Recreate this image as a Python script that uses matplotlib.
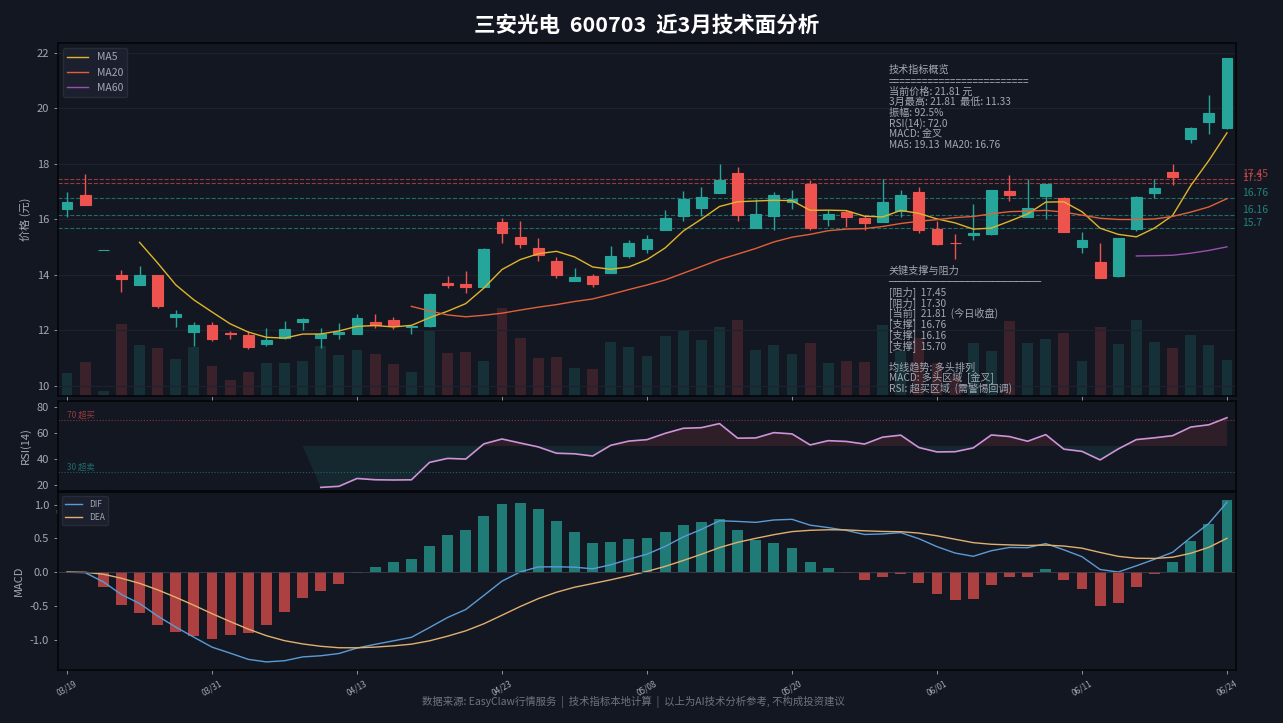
import numpy as np
import pandas as pd
import matplotlib
matplotlib.use("Agg")
import matplotlib.pyplot as plt
import matplotlib.transforms as mtransforms

plt.rcParams['font.family'] = ['Noto Sans CJK SC', 'DejaVu Sans']
plt.rcParams['axes.unicode_minus'] = False

# ---- data (65 trading days) ----
opens = [16.38, 16.86, 14.89, 14.00, 13.64, 13.98, 12.49, 11.92, 12.18, 11.90,
         11.82, 11.49, 11.71, 12.29, 11.71, 11.86, 11.88, 12.29, 12.36, 12.10,
         12.14, 13.71, 13.65, 13.56, 15.89, 15.36, 14.96, 14.50, 13.79, 13.96,
         14.08, 14.68, 14.93, 15.61, 16.11, 16.39, 16.96, 17.68, 15.68, 16.11,
         16.61, 17.29, 16.00, 16.25, 16.04, 15.92, 16.31, 17.00, 15.65, 15.16,
         15.43, 15.46, 17.03, 16.10, 16.85, 16.78, 14.99, 14.45, 13.94, 15.66,
         16.96, 17.71, 18.90, 19.50, 19.28]
highs = [16.99, 17.65, 14.89, 14.19, 14.30, 14.00, 12.74, 12.30, 12.30, 11.99,
         11.96, 12.09, 12.33, 12.46, 12.07, 12.26, 12.58, 12.58, 12.48, 12.17,
         13.34, 13.94, 14.12, 14.96, 16.05, 15.94, 15.33, 14.65, 14.26, 14.04,
         15.05, 15.26, 15.44, 16.33, 17.01, 17.15, 18.01, 17.88, 16.75, 16.98,
         17.04, 17.42, 16.35, 16.33, 16.14, 17.44, 17.04, 17.17, 15.95, 15.46,
         16.55, 17.05, 17.58, 17.47, 17.28, 16.80, 15.56, 15.15, 15.33, 16.84,
         17.44, 18.01, 19.31, 20.48, 21.81]
lows = [16.10, 16.50, 14.89, 13.38, 13.62, 12.81, 12.12, 11.45, 11.63, 11.70,
        11.33, 11.42, 11.70, 12.02, 11.35, 11.69, 11.85, 12.08, 12.06, 11.88,
        12.10, 13.52, 13.33, 13.55, 15.15, 14.98, 14.51, 13.90, 13.78, 13.56,
        14.06, 14.60, 14.77, 15.60, 15.95, 16.13, 16.95, 15.93, 15.67, 15.63,
        16.37, 15.63, 15.76, 15.71, 15.60, 15.90, 16.10, 15.49, 15.09, 14.56,
        15.25, 15.45, 16.66, 16.09, 16.02, 15.55, 14.78, 13.88, 13.93, 15.59,
        16.76, 17.24, 18.74, 19.06, 19.27]
closes = [16.61, 16.52, 14.89, 13.85, 13.98, 12.88, 12.58, 12.18, 11.67, 11.85,
          11.39, 11.64, 12.04, 12.39, 11.87, 11.94, 12.46, 12.19, 12.14, 12.15,
          13.32, 13.64, 13.56, 14.94, 15.49, 15.10, 14.70, 14.00, 13.93, 13.68,
          14.68, 15.14, 15.30, 16.04, 16.73, 16.82, 17.42, 16.15, 16.18, 16.86,
          16.75, 15.68, 16.18, 16.10, 15.85, 16.62, 16.86, 15.63, 15.11, 15.13,
          15.50, 17.04, 16.88, 16.41, 17.27, 15.56, 15.25, 13.90, 15.31, 16.82,
          17.14, 17.52, 19.29, 19.83, 21.81]
volumes = [23, 34, 5, 72, 51, 48, 37, 49, 30, 16, 24, 33, 33, 35, 50, 41, 46,
           42, 32, 24, 66, 43, 44, 35, 88, 58, 38, 39, 28, 27, 54, 49, 40, 60,
           66, 56, 69, 76, 46, 51, 42, 53, 33, 35, 34, 71, 45, 58, 33, 20, 53,
           45, 75, 53, 57, 63, 35, 69, 52, 76, 54, 48, 61, 51, 36]
tick_labels = ['03/19', '03/31', '04/13', '04/23', '05/08', '05/20',
               '06/01', '06/11', '06/24']
resistance = [17.45, 17.30]
support = [16.76, 16.16, 15.70]

BG = '#131722'
UP = '#26a69a'
DOWN = '#ef5350'
TXT = '#a3a8b2'
GRID = '#1e2230'

df = pd.DataFrame({'open': opens, 'high': highs, 'low': lows,
                   'close': closes, 'vol': volumes})
x = np.arange(len(df))
up = df['close'] >= df['open']
cols = np.where(up, UP, DOWN)

df['ma5'] = df['close'].rolling(5).mean()
df['ma20'] = df['close'].rolling(20).mean()
df['ma60'] = df['close'].rolling(60).mean()

# RSI, Wilder smoothing seeded with a 14-day simple average
d = np.diff(np.array(closes))
g = np.clip(d, 0, None)
l = np.clip(-d, 0, None)
ag, al = g[:14].mean(), l[:14].mean()
rsi = [np.nan] * 14 + [100 - 100 / (1 + ag / al)]
for i in range(14, len(d)):
    ag = (ag * 13 + g[i]) / 14
    al = (al * 13 + l[i]) / 14
    rsi.append(100 - 100 / (1 + ag / al))
df['rsi'] = rsi

ema12 = df['close'].ewm(span=12, adjust=False).mean()
ema26 = df['close'].ewm(span=26, adjust=False).mean()
df['dif'] = ema12 - ema26
df['dea'] = df['dif'].ewm(span=9, adjust=False).mean()
df['hist'] = 2 * (df['dif'] - df['dea'])

fig = plt.figure(figsize=(12.83, 7.23), dpi=100, facecolor=BG)
ax = fig.add_axes([0.0452, 0.4523, 0.9182, 0.4882])
ax_rsi = fig.add_axes([0.0452, 0.3209, 0.9182, 0.1245], sharex=ax)
ax_macd = fig.add_axes([0.0452, 0.0733, 0.9182, 0.2462], sharex=ax)

for a in (ax, ax_rsi, ax_macd):
    a.set_facecolor(BG)
    for s in a.spines.values():
        s.set_color('#050608')
        s.set_linewidth(1.2)
    a.tick_params(colors=TXT, labelsize=8, length=3, width=0.6)
    a.grid(axis='y', color=GRID, linewidth=0.8)
    a.set_axisbelow(True)

# volume on twin axis
axv = ax.twinx()
axv.bar(x, df['vol'], width=0.6, color=cols, alpha=0.18, zorder=1)
axv.set_ylim(0, df['vol'].max() * 4)
axv.set_yticks([])
for s in axv.spines.values():
    s.set_visible(False)
ax.set_zorder(axv.get_zorder() + 1)
ax.patch.set_visible(False)

# candles
ax.vlines(x, df['low'], df['high'], color=cols, linewidth=1, zorder=3)
body = (df['close'] - df['open']).abs()
ax.bar(x, body, bottom=np.minimum(df['open'], df['close']), width=0.6,
       color=cols, edgecolor=cols, linewidth=0.8, zorder=4)

ax.plot(x, df['ma5'], color='#e0b52a', lw=1, label='MA5', zorder=5)
ax.plot(x, df['ma20'], color='#e0603a', lw=1, label='MA20', zorder=5)
ax.plot(x, df['ma60'], color='#9b4fb0', lw=1, label='MA60', zorder=5)

trans = mtransforms.blended_transform_factory(ax.transAxes, ax.transData)
for v in resistance:
    ax.axhline(v, color=DOWN, ls='--', lw=0.8, alpha=0.6, zorder=2)
    ax.text(1.005, v, f"{v}", color=DOWN, alpha=0.75, fontsize=7.5,
            va='bottom', transform=trans)
for v in support:
    ax.axhline(v, color=UP, ls='--', lw=0.8, alpha=0.6, zorder=2)
    ax.text(1.005, v, f"{v}", color=UP, alpha=0.75, fontsize=7.5,
            va='bottom', transform=trans)

ax.set_ylim(min(lows) * 0.85, max(highs) * 1.025)
ax.set_xlim(-0.5, len(df) - 0.5)
ax.set_ylabel('价格 (元)', color=TXT, fontsize=8)
ax.tick_params(labelbottom=False)
ax.legend(loc='upper left', fontsize=7.5, facecolor='#1e2230',
          edgecolor='#2a2e39', labelcolor=TXT, framealpha=0.9)


def text_block(lines, y0, step=0.0303, xpos=0.705):
    # one text per line so the spacing and fonts can be set per line
    for i, (s, fam) in enumerate(lines):
        ax.text(xpos, y0 - i * step, s, transform=ax.transAxes,
                fontsize=7.3, color=TXT, va='center', ha='left',
                family=fam, zorder=6)


cjk = ['Noto Sans CJK SC', 'DejaVu Sans']
dv = ['DejaVu Sans']
text_block([("技术指标概览", cjk),
            ("=" * 25, cjk),
            ("当前价格: 21.81 元", cjk),
            ("3月最高: 21.81  最低: 11.33", cjk),
            ("振幅: 92.5%", cjk),
            ("RSI(14): 72.0", cjk),
            ("MACD: 金叉", cjk),
            ("MA5: 19.13  MA20: 16.76", cjk)], 0.9235)
text_block([("关键支撑与阻力", cjk),
            ("─" * 25, dv),
            ("[阻力]  17.45", cjk),
            ("[阻力]  17.30", cjk),
            ("[当前]  21.81  (今日收盘)", cjk),
            ("[支撑]  16.76", cjk),
            ("[支撑]  16.16", cjk),
            ("[支撑]  15.70", cjk),
            ("", cjk),
            ("均线趋势: 多头排列", cjk),
            ("MACD: 多头区域  [金叉]", cjk),
            ("RSI: 超买区域  (需警惕回调)", cjk)], 0.354)

# RSI
ax_rsi.plot(x, df['rsi'], color='#ce93d8', lw=1.2)
rf = df['rsi'].fillna(50)
ax_rsi.fill_between(x, rf, 50, where=rf >= 50, color=DOWN, alpha=0.12,
                    interpolate=True, lw=0)
ax_rsi.fill_between(x, rf, 50, where=rf < 50, color=UP, alpha=0.12,
                    interpolate=True, lw=0)
ax_rsi.axhline(70, color=DOWN, ls=':', lw=0.8, alpha=0.5)
ax_rsi.axhline(30, color=UP, ls=':', lw=0.8, alpha=0.5)
ax_rsi.text(0, 70, '70 超买', color=DOWN, alpha=0.6, fontsize=6, va='bottom')
ax_rsi.text(0, 30, '30 超卖', color=UP, alpha=0.6, fontsize=6, va='bottom')
ax_rsi.set_ylim(15, 85)
ax_rsi.set_yticks([20, 40, 60, 80])
ax_rsi.set_ylabel('RSI(14)', color=TXT, fontsize=8)
ax_rsi.grid(False)

# MACD
hcols = np.where(df['hist'] >= 0, UP, DOWN)
ax_macd.bar(x, df['hist'], width=0.6, color=hcols, alpha=0.7)
ax_macd.plot(x, df['dif'], color='#5b9bd5', lw=1, label='DIF')
ax_macd.plot(x, df['dea'], color='#e0b070', lw=1, label='DEA')
ax_macd.axhline(0, color='#3a3f4b', lw=0.6)
ax_macd.set_ylabel('MACD', color=TXT, fontsize=8)
ax_macd.grid(False)
ax_macd.legend(loc='upper left', fontsize=6, facecolor='#1e2230',
               edgecolor='#2a2e39', labelcolor=TXT, framealpha=0.9)

ticks = list(range(0, len(df), 8))
ax_macd.set_xticks(ticks)
ax_macd.set_xticklabels(tick_labels, rotation=30, fontsize=6, ha='center')
ax_rsi.tick_params(axis='x', labelbottom=True, labelrotation=30, labelsize=6)

fig.text(0.504, 0.9654, '三安光电  600703  近3月技术面分析', color='white',
         fontsize=15.5, fontweight='bold', ha='center', va='center')
fig.text(0.494, 0.029, '数据来源: EasyClaw行情服务  |  技术指标本地计算  |  以上为AI技术分析参考, 不构成投资建议',
         ha='center', va='center', color='#6f7480', fontsize=7.5)

fig.savefig('out.png', dpi=100, facecolor=BG)
